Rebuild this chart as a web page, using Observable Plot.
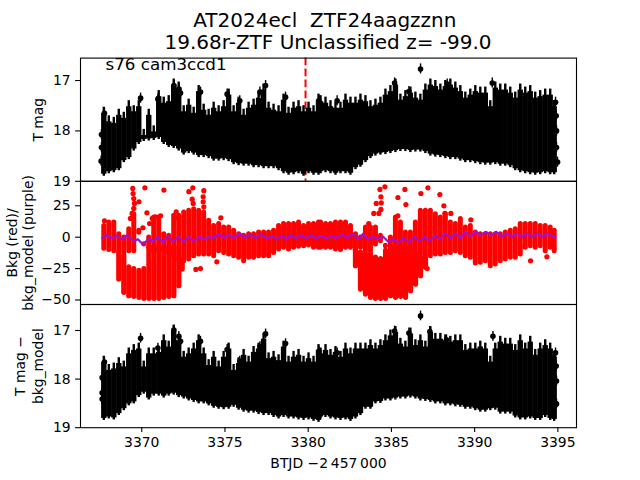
<!DOCTYPE html>
<html><head><meta charset="utf-8">
<style>
html,body{margin:0;padding:0;background:#fff;width:640px;height:480px;overflow:hidden}
#c{position:relative;width:640px;height:480px;font-family:"DejaVu Sans",sans-serif}
#c svg{position:absolute;left:0;overflow:visible;background:transparent}
.t{position:absolute;left:8px;width:640px;text-align:center;font-size:20px;line-height:21px;height:21px;color:#000;white-space:pre}
</style>
<script src="https://cdn.jsdelivr.net/npm/d3@7"></script>
<script src="https://cdn.jsdelivr.net/npm/@observablehq/plot@0.6"></script>
</head><body><div id="c">
<div class="t" style="top:10px">AT2024ecl  ZTF24aagzznn </div>
<div class="t" style="top:32px">19.68r-ZTF Unclassified z= -99.0</div>
</div>
<script>
const times = [3367.72,3368.02,3368.32,3368.62,3368.92,3369.22,3369.52,3369.82,3370.12,3370.42,3370.72,3371.02,3371.32,3371.62,3371.92,3372.22,3372.52,3372.82,3373.12,3373.42,3373.72,3374.02,3374.32,3374.62,3374.92,3375.22,3375.52,3375.82,3376.12,3376.42,3376.72,3377.02,3377.32,3377.62,3377.92,3378.22,3378.52,3378.82,3379.12,3379.42,3379.72,3380.02,3380.32,3380.62,
3380.74,3381.04,3381.34,3381.64,3381.94,3382.24,3382.54,3382.84,3383.14,3383.44,3383.74,3384.04,3384.34,3384.64,3384.94,3385.24,3385.54,3385.84,3386.14,3386.44,3386.74,3387.04,3387.34,3387.64,3387.94,3388.24,3388.54,3388.84,3389.14,3389.44,3389.74,3390.04,3390.34,3390.64,3390.94,3391.24,3391.54,3391.84,3392.14,3392.44,3392.74,3393.04,3393.34,3393.64,3393.94,3394.24,3394.54,3394.78];

const tmagBright = [17.53,17.70,17.73,17.57,17.63,17.40,17.50,17.40,17.97,17.57,17.90,17.20,17.33,17.30,16.97,17.03,17.50,17.37,17.53,17.10,17.47,17.57,17.43,17.50,17.40,17.17,17.50,17.33,17.57,17.43,17.37,17.23,17.07,17.43,17.47,17.50,17.27,17.53,17.43,17.40,17.50,17.43,17.50,17.27,
17.30,17.33,17.40,17.43,17.43,17.27,17.33,17.33,17.27,17.30,17.40,17.37,17.33,17.17,17.10,16.97,17.27,17.20,17.13,17.23,17.27,17.07,16.97,17.00,17.07,17.00,16.97,17.03,17.10,17.23,17.17,17.10,17.13,17.13,17.40,17.03,17.07,17.07,17.13,17.23,17.07,17.13,17.10,17.23,17.20,17.17,17.17,17.40];
const tmagFaint = [18.90,18.85,18.83,18.79,18.63,18.57,18.40,18.27,18.21,18.20,18.19,18.17,18.27,18.33,18.35,18.40,18.48,18.45,18.48,18.53,18.53,18.55,18.60,18.60,18.59,18.61,18.67,18.69,18.70,18.70,18.73,18.73,18.75,18.75,18.75,18.79,18.85,18.88,18.87,18.85,18.90,18.85,18.88,18.88,
18.85,18.83,18.85,18.88,18.85,18.85,18.88,18.77,18.72,18.63,18.55,18.50,18.48,18.47,18.45,18.43,18.41,18.41,18.43,18.42,18.42,18.45,18.50,18.52,18.53,18.55,18.57,18.57,18.60,18.63,18.63,18.65,18.67,18.68,18.68,18.67,18.70,18.70,18.73,18.79,18.83,18.85,18.87,18.88,18.87,18.85,18.87,18.87];
const tmagDotT = [3367.58,3367.58,3367.56,3367.76,3369.93,3370.97,3371.93,3372.23,3372.33,3373.53,3375.13,3375.89,3377.10,3377.44,3378.64,3380.64,3381.74,3385.19,3386.05,3386.75,3388.35,3391.06,3394.86,3394.90,3394.92,3394.92,3394.98];
const tmagDotM = [18.07,18.33,18.60,17.65,17.35,17.37,17.10,17.17,17.25,17.23,17.27,17.40,17.23,17.10,17.33,17.40,17.40,17.05,17.22,16.77,17.07,17.05,17.43,17.70,18.00,18.33,18.62];

const bkgHi = [9.0,11.7,11.7,2.4,-0.2,6.4,18.3,5.1,-5.6,-0.2,15.7,15.7,2.4,1.1,17.0,17.0,19.7,21.0,22.3,21.0,19.7,13.0,9.0,10.4,7.7,7.7,5.1,2.4,1.1,2.4,2.4,3.7,3.7,3.7,5.1,9.0,10.4,10.4,10.4,11.7,9.0,10.4,10.4,11.7,
11.7,10.4,10.4,11.7,11.7,11.7,9.0,2.4,-0.2,7.7,7.7,7.7,1.1,-6.9,-0.2,15.7,11.7,3.7,3.7,11.7,21.0,21.0,21.0,18.3,15.7,18.3,11.7,10.4,14.4,7.7,9.0,3.7,2.4,2.4,2.4,2.4,2.4,3.7,5.1,6.4,10.4,10.4,10.4,10.4,9.0,9.0,7.7,5.1];
const bkgLo = [-9.3,-10.3,-11.1,-11.1,-12.5,-11.1,-11.1,3.5,-5.8,-8.5,-11.1,-11.1,-11.1,-12.5,-15.1,-17.8,-19.1,-17.8,-15.1,-13.8,-13.8,-13.8,-15.1,-11.1,-12.5,-13.8,-15.1,-16.4,-19.1,-16.4,-16.4,-15.1,-15.1,-15.1,-12.5,-9.8,-8.5,-9.8,-8.5,-7.7,-7.2,-6.6,-8.5,-8.5,
-8.5,-8.5,-8.5,-9.8,-10.3,-8.5,-8.5,-11.1,-8.5,-11.1,-11.1,-5.8,-3.2,-7.2,-11.1,-11.1,-11.1,-11.1,-12.5,-12.5,-13.8,-15.1,-15.1,-13.8,-13.8,-12.5,-12.5,-11.1,-12.5,-15.1,-16.4,-21.0,-20.4,-19.1,-23.1,-21.8,-19.1,-17.8,-16.4,-16.4,-13.8,-8.5,-7.2,-8.5,-7.2,-11.1,-8.5,-11.1];
const dipT = [3368.62,3368.92,3369.22,3369.52,3369.83,3370.13,3370.43,3370.73,3371.03,3371.33,3371.63,3371.93,3372.23,3372.43,
3382.84,3383.14,3383.44,3383.74,3384.04,3384.35,3384.65,3384.95,3385.25,3385.55,3385.85,3386.15,3386.45,3386.75,3387.05];
const dipHi = [-12.2,-14.9,-24.1,-25.5,-26.8,-25.5,-8.2,-8.2,-8.2,-8.2,-8.2,-8.2,-16.2,-18.8,
-10.9,-12.2,-13.5,-13.5,-16.2,-17.5,-10.9,-8.2,-8.2,-8.2,-8.2,-8.2,-13.5,-16.2,-17.5];
const dipLo = [-33.7,-44.3,-47.0,-47.5,-48.3,-49.1,-49.1,-49.1,-49.1,-48.3,-47.5,-47.0,-39.0,-25.7,
-23.1,-41.7,-45.7,-48.3,-49.1,-49.1,-49.1,-47.0,-48.3,-47.5,-48.3,-43.0,-37.7,-31.1,-24.4];
const bkgDotT = [3369.46,3369.48,3369.52,3369.56,3369.52,3369.42,3369.32,3369.83,3370.19,3371.33,3372.83,3373.07,3373.73,3373.69,3373.69,3373.73,3373.03,3373.09,3370.07,3370.31,3370.47,3370.63,3370.83,3371.13,3372.07,3372.07,3374.75,3373.25,3373.53,3374.51,3367.76,
3384.31,3384.61,3385.81,3387.19,3386.77,3387.91,3385.39,3384.37,3384.09,3384.39,3385.87,3388.15,3383.94,3384.25,3384.37,3388.21,3388.57,3385.39,3383.64,3389.77,3387.15,3393.36,3394.34];
const bkgDotV = [38.8,34.8,30.8,26.9,22.9,18.9,14.9,28.2,39.3,37.5,36.2,39.3,37.0,32.2,28.2,24.2,30.3,26.9,7.5,19.4,10.9,14.9,16.2,17.0,20.2,15.4,15.4,-25.7,-25.0,-19.6,13.0,
38.0,40.1,38.0,39.3,34.8,34.0,31.6,32.2,26.9,27.4,26.0,25.0,18.9,18.9,22.1,18.9,18.9,17.0,10.9,13.8,-25.0,-18.8,-15.6];
const modelT = [3367.62,3367.92,3368.22,3368.52,3368.82,3369.12,3369.52,3369.77,3370.07,3370.43,3370.69,3370.97,3371.29,3371.57,3371.89,3372.19,3372.53,3372.83,3373.13,3373.43,3373.73,3374.03,3374.33,3374.63,3374.93,3375.23,3375.53,3375.89,3376.23,3376.54,3376.84,3377.14,3377.54,3377.84,3378.14,3378.44,3378.70,3378.98,3379.30,3379.58,3379.90,3380.18,3380.50,3380.78,3381.10,3381.38,3381.74,3382.04,3382.34,3382.68,3383.04,3383.30,3383.60,3383.90,3384.19,3384.49,3384.81,3385.11,3385.45,3385.75,3386.05,3386.39,3386.69,3386.99,3387.31,3387.65,3387.91,3388.21,3388.55,3388.85,3389.15,3389.45,3389.75,3390.05,3390.35,3390.69,3390.99,3391.30,3391.62,3391.92,3392.26,3392.56,3392.86,3393.16,3393.46,3393.76,3394.06,3394.36,3394.86];
const modelV = [-0.5,1.6,-1.0,1.1,-1.8,1.6,-3.2,-1.6,-5.8,-1.0,-3.7,0.3,-4.5,1.1,-3.7,0.3,-3.7,0.3,-3.2,0.3,-1.6,0.3,-0.5,2.4,-0.5,2.1,-0.5,3.0,-0.5,2.1,-0.5,2.1,-1.0,1.1,-1.6,1.1,-1.6,1.6,-1.0,1.6,-1.0,1.6,-1.0,1.1,-1.0,0.6,-0.5,2.1,-0.5,2.7,-1.6,2.7,-1.6,0.3,-1.6,0.5,-3.7,-1.6,-4.2,-0.5,-4.2,0.3,-3.2,0.3,-2.9,1.6,-1.8,3.0,-0.5,3.0,-0.5,4.3,0.3,4.8,1.6,4.3,1.6,4.3,0.3,3.0,0.3,3.0,0.3,3.0,0.3,3.0,0.3,3.0,-0.3];

const corrBright = [17.53,17.70,17.67,17.56,17.63,17.36,17.29,17.26,17.63,17.36,17.36,17.33,17.09,17.22,16.89,17.09,17.43,17.36,17.26,17.09,17.36,17.60,17.43,17.63,17.43,17.26,17.70,17.56,17.39,17.53,17.33,17.26,17.06,17.46,17.43,17.50,17.22,17.53,17.43,17.39,17.53,17.46,17.53,17.29,
17.36,17.29,17.39,17.33,17.43,17.26,17.36,17.26,17.26,17.26,17.19,17.26,17.19,17.09,16.99,16.92,17.16,17.22,16.95,17.19,17.09,17.22,16.92,17.06,17.06,17.09,17.12,17.09,17.09,17.29,17.26,17.26,17.22,17.26,17.53,17.26,17.12,17.16,17.16,17.29,17.09,17.26,17.12,17.39,17.26,17.19,17.26,17.43];
const corrFaint = [18.85,18.82,18.84,18.75,18.65,18.55,18.51,18.38,18.31,18.43,18.35,18.35,18.39,18.35,18.33,18.38,18.41,18.45,18.48,18.51,18.51,18.55,18.60,18.62,18.63,18.62,18.58,18.64,18.68,18.70,18.70,18.73,18.75,18.75,18.79,18.82,18.79,18.82,18.82,18.84,18.85,18.84,18.87,18.89,
18.82,18.79,18.82,18.84,18.85,18.84,18.87,18.82,18.75,18.62,18.62,18.51,18.50,18.45,18.45,18.43,18.41,18.41,18.39,18.41,18.45,18.46,18.48,18.51,18.51,18.55,18.55,18.57,18.58,18.62,18.62,18.65,18.68,18.68,18.65,18.64,18.72,18.72,18.72,18.80,18.84,18.84,18.82,18.85,18.85,18.79,18.85,18.87];
const corrDotT = [3367.62,3367.62,3367.62,3367.76,3369.93,3370.97,3371.93,3372.23,3372.33,3373.53,3375.13,3375.89,3377.10,3377.44,3378.64,3380.64,3381.74,3385.19,3386.05,3386.75,3387.31,3388.31,3391.10,3394.86,3394.90,3394.92,3394.92];
const corrDotM = [17.97,18.28,18.41,17.65,17.16,17.36,16.99,17.12,17.22,17.22,17.39,17.63,17.33,17.07,17.27,17.43,17.46,17.01,17.05,16.70,17.02,17.19,17.12,17.46,17.73,18.04,18.51];

const markerTime = 3379.84;
const magError = 0.1;
const tipLength = 0.12;
const tmagTicks = [17,18,19];
const bkgTicks = [25,0,-25,-50];
const corrTicks = [17,18,19];
const xTicks = [3370,3375,3380,3385,3390,3395];
const xDomain = [3366.32,3396.12];

const FS = 13.9, TICK = 4.9, PAD = 4.9, W = 1.1;
const band = (t,a,b)=>t.map((x,i)=>({x,a:a[i],b:b[i]}));
const pts = (t,v)=>t.map((x,i)=>({x,v:v[i]}));
const yAxis = (ticks,label,dx,lh)=>[
  Plot.axisY({ticks,tickSize:TICK,tickPadding:PAD,strokeWidth:W,tickFormat:d3.format("d"),label:null,fontSize:FS}),
  Plot.text([label],{frameAnchor:"left",dx,rotate:-90,text:d=>d,textAnchor:"middle",fontSize:FS,lineHeight:lh,fill:"black"})
];
function blackPanel(bright,faint,dT,dM,err){
  return [
    Plot.ruleX(band(times,bright,faint),{x:"x",y1:d=>d.a+tipLength,y2:d=>d.b-0.04,stroke:"black",strokeWidth:5.4}),
    Plot.ruleX(band(times,bright,faint),{x:"x",y1:"a",y2:"b",stroke:"black",strokeWidth:2.4}),
    Plot.ruleX(pts(dT,dM),{x:"x",y1:d=>d.v-err,y2:d=>d.v+err,stroke:"black",strokeWidth:1.4}),
    Plot.dot(pts(dT,dM),{x:"x",y:"v",r:2.8,fill:"black",stroke:"none"})
  ];
}
const common = {width:640,marginLeft:80,marginRight:64,style:{background:"transparent",fontFamily:"'DejaVu Sans',sans-serif",fontSize:FS+"px",color:"black"}};
const xNone = {domain:xDomain,ticks:[],axis:null};

const p1 = Plot.plot({...common,height:181,marginTop:57.6,marginBottom:0.2,
  x:xNone,y:{domain:[19,16.555]},
  marks:[
    Plot.ruleX([markerTime],{x:d=>d,stroke:"#ff0000",strokeWidth:2,strokeDasharray:"7.7,3.3"}),
    ...blackPanel(tmagBright,tmagFaint,tmagDotT,tmagDotM,magError),
    Plot.text(["s76 cam3ccd1"],{frameAnchor:"top-left",dx:25,dy:0,text:d=>d,fontSize:16.7,fill:"black"}),
    ...yAxis(tmagTicks,"T mag",-43,1.18),
    Plot.frame({stroke:"black",strokeWidth:W})
  ]});
const p2 = Plot.plot({...common,height:124,marginTop:0.8,marginBottom:0,
  x:xNone,y:{domain:[-53.6,44.5]},
  marks:[
    Plot.ruleX(band(times,bkgHi,bkgLo),{x:"x",y1:"a",y2:"b",stroke:"#ff0000",strokeWidth:5,strokeLinecap:"round"}),
    Plot.ruleX(band(dipT,dipHi,dipLo),{x:"x",y1:"a",y2:"b",stroke:"#ff0000",strokeWidth:5.2,strokeLinecap:"round"}),
    Plot.dot(pts(bkgDotT,bkgDotV),{x:"x",y:"v",r:2.6,fill:"#ff0000",stroke:"none"}),
    Plot.line(pts(modelT,modelV),{x:"x",y:"v",stroke:"#a010d0",strokeWidth:2.2}),
    ...yAxis(bkgTicks,"Bkg (red)/\nbkg_model (purple)",-61,1.18),
    Plot.frame({stroke:"black",strokeWidth:W})
  ]});
const p3 = Plot.plot({...common,height:176,marginTop:0,marginBottom:52.8,
  x:{domain:xDomain,ticks:xTicks,tickFormat:d=>String(d)},y:{domain:[19,16.465]},
  marks:[
    ...blackPanel(corrBright,corrFaint,corrDotT,corrDotM,magError),
    Plot.axisX({ticks:xTicks,tickSize:TICK,tickPadding:PAD,strokeWidth:W,tickFormat:d=>String(d),label:"BTJD \u22122\u2009457\u2009000",labelAnchor:"center",labelArrow:"none",labelOffset:40,fontSize:FS}),
    ...yAxis(corrTicks,"T mag \u2212\nbkg_model",-52,1.3),
    Plot.frame({stroke:"black",strokeWidth:W})
  ]});
const c = document.getElementById("c");
[[p1,0],[p2,180],[p3,304]].forEach(([s,top])=>{s.style.top=top+"px";c.appendChild(s);});
</script></body></html>
